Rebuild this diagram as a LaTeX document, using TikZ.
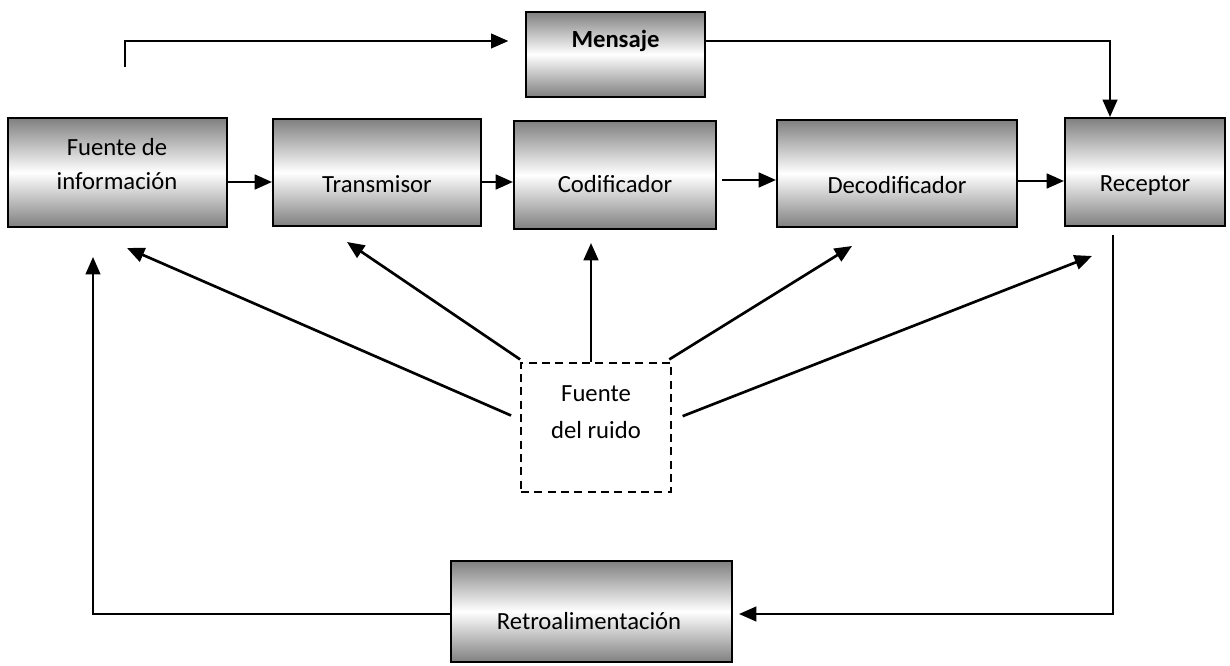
\documentclass[tikz,border=0pt]{standalone}
\usepackage{fontspec}
\setmainfont{Carlito}
\usetikzlibrary{arrows.meta}

\tikzset{
  box/.style={draw=black, line width=1.5pt, top color=black!50, bottom color=black!50, middle color=white, inner sep=0pt},
  noisebox/.style={draw=black, line width=1.4pt, dash pattern=on 6pt off 4pt, fill=white, inner sep=0pt},
  txt/.style={font=\fontsize{18.5}{26}\selectfont, align=center, inner sep=0pt},
  arr/.style={line width=2pt, -{Triangle[length=13pt,width=11pt]}},
  ln/.style={line width=1.6pt}
}

\begin{document}
\begin{tikzpicture}[x=0.75pt, y=-0.75pt]
\useasboundingbox (0,0) rectangle (1230,666);

% blocks of the chain
\node[box, minimum width=164.25pt, minimum height=81.75pt] (fuente) at (117.5,172.5) {};
\node[box, minimum width=156pt, minimum height=80.25pt] (trans) at (377,172.5) {};
\node[box, minimum width=151.5pt, minimum height=81pt] (cod) at (615,175) {};
\node[box, minimum width=180pt, minimum height=80.25pt] (dec) at (897,173.5) {};
\node[box, minimum width=120pt, minimum height=81pt] (rec) at (1145,172) {};
\node[box, minimum width=134.25pt, minimum height=63.75pt] (msg) at (615.5,54.5) {};
\node[box, minimum width=210.75pt, minimum height=75.75pt] (retro) at (591.5,611.5) {};
\node[noisebox, minimum width=112.5pt, minimum height=96.75pt] (ruido) at (596,427.5) {};

% texts
\node[txt] (fuentetxt) at (117,164) {Fuente de\\información};
\node[txt] (transtxt) at (377,184) {Transmisor};
\node[txt] (codtxt) at (615,184) {Codificador};
\node[txt] (dectxt) at (897,185) {Decodificador};
\node[txt] (rectxt) at (1145,186) {Receptor};
\node[txt, font=\fontsize{18.5}{26}\selectfont\bfseries] (msgtxt) at (615.5,41) {Mensaje};
\node[txt] (retrotxt) at (589,621) {Retroalimentación};
\node[txt, font=\fontsize{18.5}{28}\selectfont] (ruidotxt) at (596,412) {Fuente\\del ruido};

% free ends
\coordinate (srcup) at (125,67);
\coordinate (recout) at (1113,235);
\coordinate (fbtip) at (93,257);
\coordinate (hitfuente) at (127,248);
\coordinate (hittrans) at (347,242);
\coordinate (hitcod) at (591,243);
\coordinate (hitdec) at (852,246);
\coordinate (hitrec) at (1092,256);

% chain
\draw[arr] (fuente.east |- 0,182) -- (trans.west |- 0,182);
\draw[arr] (trans.east |- 0,182) -- (cod.west |- 0,182);
\draw[arr, shorten <=4pt] (cod.east |- 0,180) -- (dec.west |- 0,180);
\draw[arr] (dec.east |- 0,181) -- (rec.west |- 0,181);

% message line
\draw[arr, line width=1.6pt, shorten >=12.5pt] (srcup) |- (msg.west |- 0,41);
\draw[arr, line width=1.6pt] (msg.east |- 0,41) -| (rec.north -| 1110,0);

% noise
\draw[arr] ([xshift=-6.75pt, yshift=9pt]ruido.west) -- (hitfuente);
\draw[arr] ([yshift=2pt]ruido.north west) -- (hittrans);
\draw[arr] (ruido.north -| hitcod) -- (hitcod);
\draw[arr] ([xshift=-2pt, yshift=2pt]ruido.north east) -- (hitdec);
\draw[arr] ([xshift=8pt, yshift=8.5pt]ruido.east) -- (hitrec);

% feedback
\draw[arr, line width=1.6pt, shorten >=4.5pt] (recout) |- (retro.east |- 0,614);
\draw[arr, line width=1.6pt] (retro.west |- 0,614) -| (fbtip);
\end{tikzpicture}
\end{document}
